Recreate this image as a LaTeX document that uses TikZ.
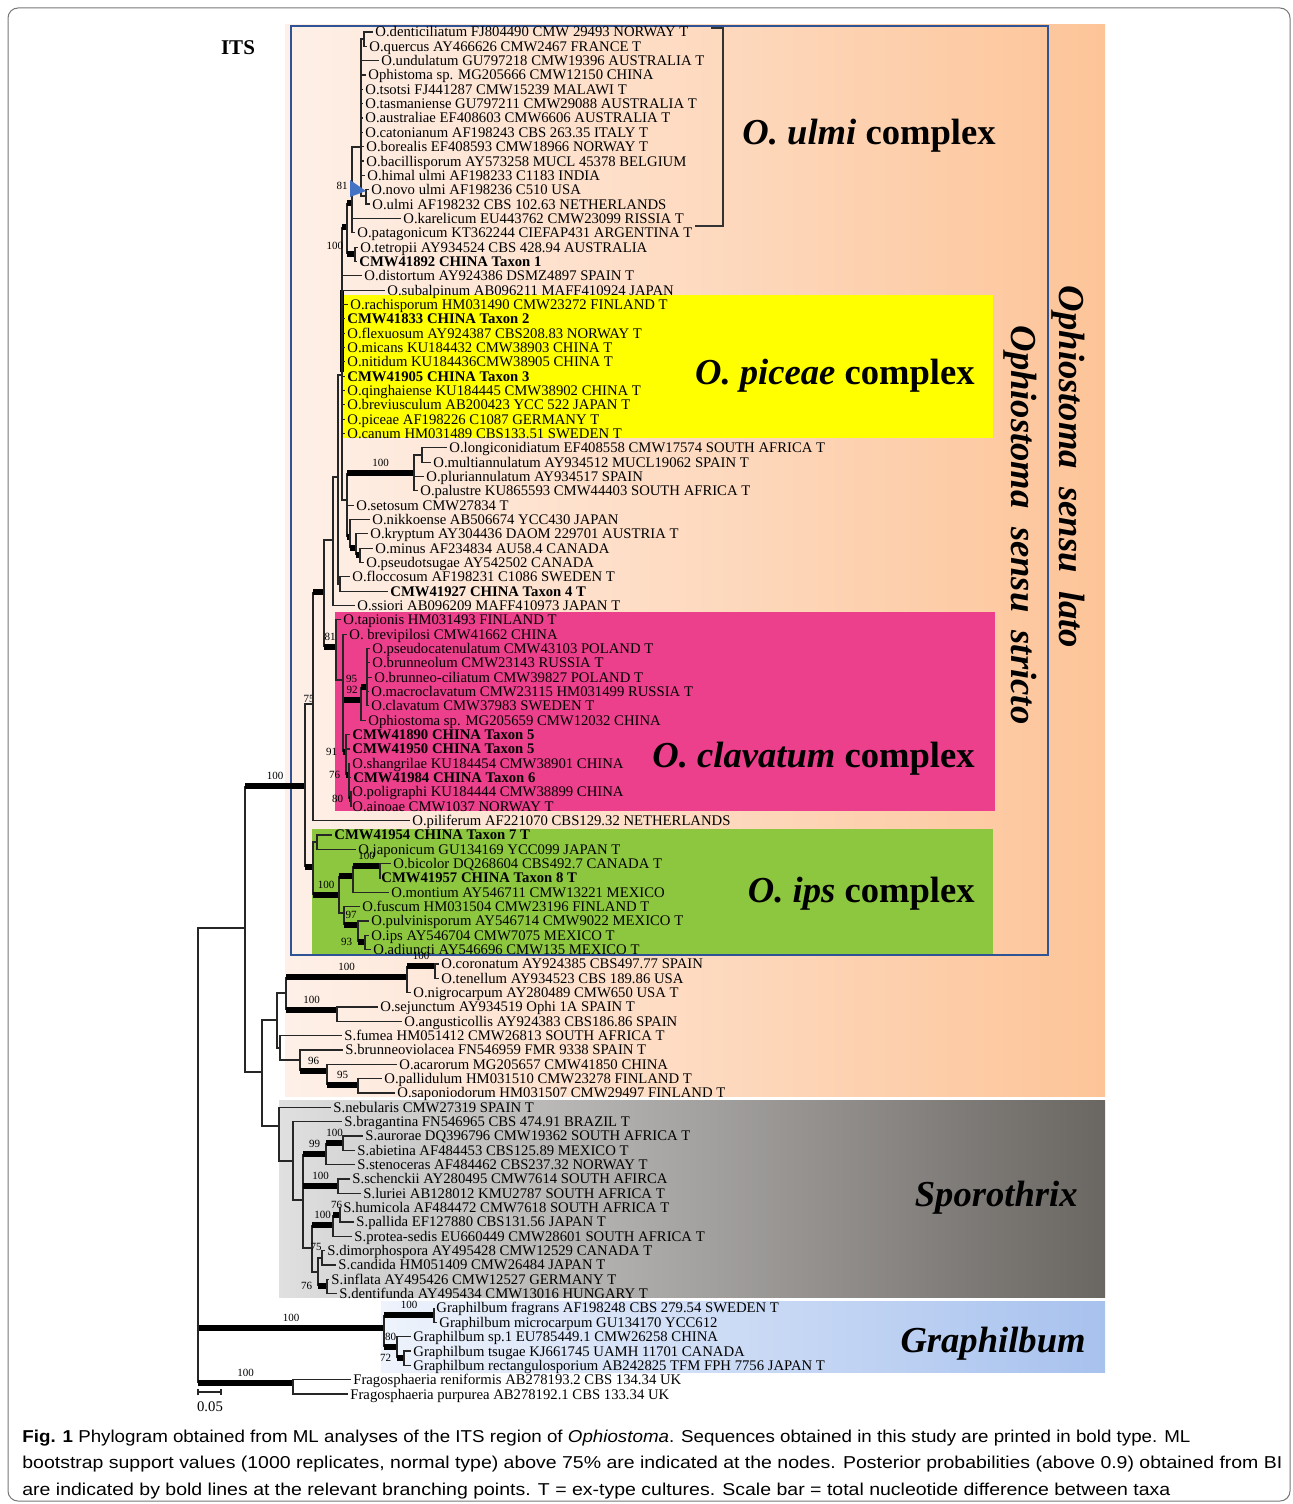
\documentclass[tikz,border=0pt]{standalone}
\usepackage{fontspec}
\setmainfont{Liberation Serif}
\newfontfamily\capfont{Liberation Sans}
\usetikzlibrary{positioning}

\definecolor{sllleft}{RGB}{254,240,232}
\definecolor{sllright}{RGB}{253,196,152}
\definecolor{ssframe}{RGB}{46,84,150}
\definecolor{piceaefill}{RGB}{255,255,0}
\definecolor{clavfill}{RGB}{236,64,140}
\definecolor{ipsfill}{RGB}{141,198,63}
\definecolor{sporoleft}{RGB}{224,224,224}
\definecolor{spororight}{RGB}{106,102,98}
\definecolor{graphleft}{RGB}{238,243,252}
\definecolor{graphright}{RGB}{168,194,238}
\definecolor{novoblue}{RGB}{68,114,196}
\definecolor{framegray}{RGB}{120,120,120}

\newcommand\tipsize{\fontsize{7.35}{8}\selectfont}
\newcommand\bssize{\fontsize{5.5}{6}\selectfont}
\newcommand\grpsize{\fontsize{18.3}{20}\selectfont}
\newcommand\capsize{\fontsize{8.6}{10}\selectfont}

\tikzset{
  br/.style={line width=0.6pt, draw=black!85},
  pp/.style={line width=3pt, draw=black},
  tx/.style={anchor=west, inner xsep=1pt, inner ysep=0pt, text height=5pt, text depth=0pt, font=\tipsize},
  txb/.style={tx, font=\tipsize\bfseries},
  bs/.style={inner sep=0.5pt, font=\bssize},
  grp/.style={anchor=base east, inner sep=0pt, font=\grpsize\bfseries},
  captxt/.style={anchor=base west, inner sep=0pt, font=\capfont\capsize},
}

\begin{document}
\begin{tikzpicture}[x=0.5pt, y=-0.5pt]
\useasboundingbox (0,0) rectangle (1292,1504);
\fill[white] (0,0) rectangle (1292,1504);
\draw[framegray, line width=0.5pt, rounded corners=5pt] (8,8) rectangle (1290,1501);

% coloured groups
\shade[left color=sllleft, right color=sllright] (285,25) rectangle (1105,1096);
\fill[piceaefill] (343,295) rectangle (993,438);
\fill[clavfill] (335,612) rectangle (995,811);
\fill[ipsfill] (312,829) rectangle (993,955);
\draw[ssframe, line width=1pt] (291,26) rectangle (1048,955);
\shade[left color=sporoleft, right color=spororight] (279,1100) rectangle (1105,1297);
\shade[left color=graphleft, right color=graphright] (381,1301) rectangle (1105,1372);
\draw[line width=0.6pt, black!80] (711,28) -- (723,28) -- (723,226) -- (695,226);

% taxa
\node[tx] (t1) at (373,32.0) {O.denticiliatum FJ804490 CMW 29493 NORWAY T};
\node[tx] (t2) at (367,46.3) {O.quercus AY466626 CMW2467 FRANCE T};
\node[tx] (t3) at (379,60.7) {O.undulatum GU797218 CMW19396 AUSTRALIA T};
\node[tx] (t4) at (366,75.0) {Ophistoma sp. MG205666 CMW12150 CHINA};
\node[tx] (t5) at (363,89.3) {O.tsotsi FJ441287 CMW15239 MALAWI T};
\node[tx] (t6) at (363,103.7) {O.tasmaniense GU797211 CMW29088 AUSTRALIA T};
\node[tx] (t7) at (363,118.0) {O.australiae EF408603 CMW6606 AUSTRALIA T};
\node[tx] (t8) at (363,132.4) {O.catonianum AF198243 CBS 263.35 ITALY T};
\node[tx] (t9) at (364,146.7) {O.borealis EF408593 CMW18966 NORWAY T};
\node[tx] (t10) at (364,161.0) {O.bacillisporum AY573258 MUCL 45378 BELGIUM};
\node[tx] (t11) at (365,175.4) {O.himal ulmi AF198233 C1183 INDIA};
\node[tx] (t12) at (369,189.7) {O.novo ulmi AF198236 C510 USA};
\node[tx] (t13) at (370,204.0) {O.ulmi AF198232 CBS 102.63 NETHERLANDS};
\node[tx] (t14) at (401,218.4) {O.karelicum EU443762 CMW23099 RISSIA T};
\node[tx] (t15) at (355,232.7) {O.patagonicum KT362244 CIEFAP431 ARGENTINA T};
\node[tx] (t16) at (358,247.1) {O.tetropii AY934524 CBS 428.94 AUSTRALIA};
\node[txb] (t17) at (357,261.4) {CMW41892 CHINA Taxon 1};
\node[tx] (t18) at (362,275.7) {O.distortum AY924386 DSMZ4897 SPAIN T};
\node[tx] (t19) at (385,290.1) {O.subalpinum AB096211 MAFF410924 JAPAN};
\node[tx] (t20) at (348,304.4) {O.rachisporum HM031490 CMW23272 FINLAND T};
\node[txb] (t21) at (345,318.7) {CMW41833 CHINA Taxon 2};
\node[tx] (t22) at (345,333.1) {O.flexuosum AY924387 CBS208.83 NORWAY T};
\node[tx] (t23) at (345,347.4) {O.micans KU184432 CMW38903 CHINA T};
\node[tx] (t24) at (345,361.8) {O.nitidum KU184436CMW38905 CHINA T};
\node[txb] (t25) at (345,376.1) {CMW41905 CHINA Taxon 3};
\node[tx] (t26) at (345,390.4) {O.qinghaiense KU184445 CMW38902 CHINA T};
\node[tx] (t27) at (345,404.8) {O.breviusculum AB200423 YCC 522 JAPAN T};
\node[tx] (t28) at (345,419.1) {O.piceae AF198226 C1087 GERMANY T};
\node[tx] (t29) at (345,433.4) {O.canum HM031489 CBS133.51 SWEDEN T};
\node[tx] (t30) at (447,447.8) {O.longiconidiatum EF408558 CMW17574 SOUTH AFRICA T};
\node[tx] (t31) at (431,462.1) {O.multiannulatum AY934512 MUCL19062 SPAIN T};
\node[tx] (t32) at (424,476.5) {O.pluriannulatum AY934517 SPAIN};
\node[tx] (t33) at (418,490.8) {O.palustre KU865593 CMW44403 SOUTH AFRICA T};
\node[tx] (t34) at (354,505.1) {O.setosum CMW27834 T};
\node[tx] (t35) at (370,519.5) {O.nikkoense AB506674 YCC430 JAPAN};
\node[tx] (t36) at (368,533.8) {O.kryptum AY304436 DAOM 229701 AUSTRIA T};
\node[tx] (t37) at (373,548.1) {O.minus AF234834 AU58.4 CANADA};
\node[tx] (t38) at (364,562.5) {O.pseudotsugae AY542502 CANADA};
\node[tx] (t39) at (350,576.8) {O.floccosum AF198231 C1086 SWEDEN T};
\node[txb] (t40) at (388,591.1) {CMW41927 CHINA Taxon 4 T};
\node[tx] (t41) at (355,605.5) {O.ssiori AB096209 MAFF410973 JAPAN T};
\node[tx] (t42) at (341,619.8) {O.tapionis HM031493 FINLAND T};
\node[tx] (t43) at (347,634.2) {O. brevipilosi CMW41662 CHINA};
\node[tx] (t44) at (370,648.5) {O.pseudocatenulatum CMW43103 POLAND T};
\node[tx] (t45) at (370,662.8) {O.brunneolum CMW23143 RUSSIA T};
\node[tx] (t46) at (372,677.2) {O.brunneo-ciliatum CMW39827 POLAND T};
\node[tx] (t47) at (369,691.5) {O.macroclavatum CMW23115 HM031499 RUSSIA T};
\node[tx] (t48) at (369,705.8) {O.clavatum CMW37983 SWEDEN T};
\node[tx] (t49) at (366,720.2) {Ophiostoma sp. MG205659 CMW12032 CHINA};
\node[txb] (t50) at (350,734.5) {CMW41890 CHINA Taxon 5};
\node[txb] (t51) at (350,748.9) {CMW41950 CHINA Taxon 5};
\node[tx] (t52) at (350,763.2) {O.shangrilae KU184454 CMW38901 CHINA};
\node[txb] (t53) at (351,777.5) {CMW41984 CHINA Taxon 6};
\node[tx] (t54) at (350,791.9) {O.poligraphi KU184444 CMW38899 CHINA};
\node[tx] (t55) at (350,806.2) {O.ainoae CMW1037 NORWAY T};
\node[tx] (t56) at (410,820.5) {O.piliferum AF221070 CBS129.32 NETHERLANDS};
\node[txb] (t57) at (332,834.9) {CMW41954 CHINA Taxon 7 T};
\node[tx] (t58) at (356,849.2) {O.japonicum GU134169 YCC099 JAPAN T};
\node[tx] (t59) at (391,863.5) {O.bicolor DQ268604 CBS492.7 CANADA T};
\node[txb] (t60) at (379,877.9) {CMW41957 CHINA Taxon 8 T};
\node[tx] (t61) at (389,892.2) {O.montium AY546711 CMW13221 MEXICO};
\node[tx] (t62) at (360,906.6) {O.fuscum HM031504 CMW23196 FINLAND T};
\node[tx] (t63) at (369,920.9) {O.pulvinisporum AY546714 CMW9022 MEXICO T};
\node[tx] (t64) at (369,935.2) {O.ips AY546704 CMW7075 MEXICO T};
\node[tx] (t65) at (371,949.6) {O.adiuncti AY546696 CMW135 MEXICO T};
\node[tx] (t66) at (439,963.9) {O.coronatum AY924385 CBS497.77 SPAIN};
\node[tx] (t67) at (439,978.2) {O.tenellum AY934523 CBS 189.86 USA};
\node[tx] (t68) at (411,992.6) {O.nigrocarpum AY280489 CMW650 USA T};
\node[tx] (t69) at (378,1006.9) {O.sejunctum AY934519 Ophi 1A SPAIN T};
\node[tx] (t70) at (402,1021.2) {O.angusticollis AY924383 CBS186.86 SPAIN};
\node[tx] (t71) at (342,1035.6) {S.fumea HM051412 CMW26813 SOUTH AFRICA T};
\node[tx] (t72) at (343,1049.9) {S.brunneoviolacea FN546959 FMR 9338 SPAIN T};
\node[tx] (t73) at (397,1064.3) {O.acarorum MG205657 CMW41850 CHINA};
\node[tx] (t74) at (382,1078.6) {O.pallidulum HM031510 CMW23278 FINLAND T};
\node[tx] (t75) at (395,1092.9) {O.saponiodorum HM031507 CMW29497 FINLAND T};
\node[tx] (t76) at (331,1107.3) {S.nebularis CMW27319 SPAIN T};
\node[tx] (t77) at (342,1121.6) {S.bragantina FN546965 CBS 474.91 BRAZIL T};
\node[tx] (t78) at (363,1135.9) {S.aurorae DQ396796 CMW19362 SOUTH AFRICA T};
\node[tx] (t79) at (355,1150.3) {S.abietina AF484453 CBS125.89 MEXICO T};
\node[tx] (t80) at (355,1164.6) {S.stenoceras AF484462 CBS237.32 NORWAY T};
\node[tx] (t81) at (350,1178.9) {S.schenckii AY280495 CMW7614 SOUTH AFIRCA};
\node[tx] (t82) at (361,1193.3) {S.luriei AB128012 KMU2787 SOUTH AFRICA T};
\node[tx] (t83) at (341,1207.6) {S.humicola AF484472 CMW7618 SOUTH AFRICA T};
\node[tx] (t84) at (354,1221.9) {S.pallida EF127880 CBS131.56 JAPAN T};
\node[tx] (t85) at (352,1236.3) {S.protea-sedis EU660449 CMW28601 SOUTH AFRICA T};
\node[tx] (t86) at (325,1250.6) {S.dimorphospora AY495428 CMW12529 CANADA T};
\node[tx] (t87) at (336,1264.9) {S.candida HM051409 CMW26484 JAPAN T};
\node[tx] (t88) at (329,1279.3) {S.inflata AY495426 CMW12527 GERMANY T};
\node[tx] (t89) at (337,1293.6) {S.dentifunda AY495434 CMW13016 HUNGARY T};
\node[tx] (t90) at (434,1307.9) {Graphilbum fragrans AF198248 CBS 279.54 SWEDEN T};
\node[tx] (t91) at (437,1322.3) {Graphilbum microcarpum GU134170 YCC612};
\node[tx] (t92) at (411,1336.6) {Graphilbum sp.1 EU785449.1 CMW26258 CHINA};
\node[tx] (t93) at (411,1351.0) {Graphilbum tsugae KJ661745 UAMH 11701 CANADA};
\node[tx] (t94) at (411,1365.3) {Graphilbum rectangulosporium AB242825 TFM FPH 7756 JAPAN T};
\node[tx] (t95) at (351,1379.6) {Fragosphaeria reniformis AB278193.2 CBS 134.34 UK};
\node[tx] (t96) at (348,1394.0) {Fragosphaeria purpurea AB278192.1 CBS 133.34 UK};

% internal nodes
\coordinate (R) at (198,1150);
\coordinate (a) at (245,928);
\coordinate (S) at (305,786);
\coordinate (A) at (313,704);
\coordinate (B) at (324,592);
\coordinate (C) at (333,540);
\coordinate (D) at (338,477);
\coordinate (E) at (342,375);
\coordinate (U) at (347,227);
\coordinate (W) at (352,203);
\coordinate (X) at (361,147);
\coordinate (X1) at (364,39);
\coordinate (X2) at (366,196);
\coordinate (T1) at (355,254);
\coordinate (H) at (347,500);
\coordinate (I) at (414,473);
\coordinate (I1) at (422,455);
\coordinate (J) at (350,537);
\coordinate (K) at (356,548);
\coordinate (L) at (360,555);
\coordinate (F) at (340,584);
\coordinate (Cl) at (336,647);
\coordinate (Cl2) at (343,680);
\coordinate (Cl3) at (361,700);
\coordinate (Cl5) at (367,687);
\coordinate (Cl4) at (346,752);
\coordinate (Cl6) at (349,775);
\coordinate (Cl7) at (351,799);
\coordinate (Ip) at (313,867);
\coordinate (Ip1) at (317,842);
\coordinate (Ip2) at (339,895);
\coordinate (Ip3) at (353,876);
\coordinate (Ip5) at (380,866);
\coordinate (Ip4) at (344,913);
\coordinate (Ip6) at (358,925);
\coordinate (Ip7) at (365,942);
\coordinate (b) at (262,1072);
\coordinate (Q) at (277,1020);
\coordinate (Q1) at (286,993);
\coordinate (Q2) at (407,977);
\coordinate (Q3) at (435,966);
\coordinate (Q4) at (337,1010);
\coordinate (Q5) at (280,1048);
\coordinate (Q6) at (300,1060);
\coordinate (Q7) at (327,1071);
\coordinate (Q8) at (358,1085);
\coordinate (Sp) at (279,1126);
\coordinate (Sp1) at (293,1161);
\coordinate (Sp2) at (303,1200);
\coordinate (Sp3) at (326,1154);
\coordinate (Sp3a) at (343,1143);
\coordinate (Sp4) at (338,1186);
\coordinate (Sp5) at (312,1248);
\coordinate (Sp6) at (333,1225);
\coordinate (Sp6a) at (340,1215);
\coordinate (Sp7) at (318,1272);
\coordinate (Sp8) at (322,1258);
\coordinate (Sp9) at (327,1286);
\coordinate (G) at (384,1328);
\coordinate (G1) at (434,1315);
\coordinate (G2) at (397,1347);
\coordinate (G3) at (404,1358);
\coordinate (Fr) at (293,1383);

% backbone
\draw[br] (R) |- (a);
\draw[br] (a) -- (a |- S);
\draw[pp] (a |- S) -- (S) node[bs, midway, above=1.4pt] (bsS) {100};
\draw[br] (a) |- (b);
\draw[br] (S) |- (A) node[bs, pos=0.75, above] (bsA) {75};
\draw[br] (S) -- (S |- Ip);
\draw[pp] (S |- Ip) -- (Ip);
\draw[br] (A) -- (A |- B);
\draw[pp] (A |- B) -- (B);
\draw[br] (A) |- (t56.west);
\draw[br] (B) |- (C);
\draw[br] (B) -- (B |- Cl);
\draw[pp] (B |- Cl) -- (Cl) node[bs, midway, above=1.4pt] (bsCl) {81};
\draw[br] (C) |- (D);
\draw[br] (C) |- (t41.west);
\draw[br] (D) |- (E);
\draw[br] (D) |- (F);
\draw[br] (F) |- (t39.west);
\draw[br] (F) |- (t40.west);

% O. ulmi and O. piceae part
\draw[br] (E) -- (E |- U);
\draw[pp] (E |- U) -- (U);
\draw[line width=1.6pt] (342,290) -- (342,372);
\draw[br] (E) |- (t18.west);
\draw[br] (E) |- (t19.west);
\draw[br] (E) |- (t20.west);
\draw[br] (E) |- (t21.west);
\draw[br] (E) |- (t22.west);
\draw[br] (E) |- (t23.west);
\draw[br] (E) |- (t24.west);
\draw[br] (E) |- (t25.west);
\draw[br] (E) |- (t26.west);
\draw[br] (E) |- (t27.west);
\draw[br] (E) |- (t28.west);
\draw[br] (E) |- (t29.west);
\draw[br] (E) |- (H);
\draw[br] (U) -- (U |- W);
\draw[pp] (U |- W) -- (W);
\draw[br] (U) -- (U |- T1);
\draw[pp] (U |- T1) -- (T1) node[bs, pos=0, above left=0pt] (bsT1) {100};
\draw[br] (T1) |- (t16.west);
\draw[br] (T1) |- (t17.west);
\draw[br] (W) |- (X);
\draw[br] (W) |- (t14.west);
\draw[br] (W) |- (t15.west);
\draw[br] (X) |- (X1);
\draw[line width=1.3pt] (361,60) -- (361,140);
\draw[br] (X) |- (t3.west);
\draw[br] (X) |- (t4.west);
\draw[br] (X) |- (t5.west);
\draw[br] (X) |- (t6.west);
\draw[br] (X) |- (t7.west);
\draw[br] (X) |- (t8.west);
\draw[br] (X) |- (t9.west);
\draw[br] (X) |- (t10.west);
\draw[br] (X) |- (t11.west);
\draw[br] (X) |- (X2);
\draw[br] (X1) |- (t1.west);
\draw[br] (X1) |- (t2.west);
\draw[br] (X2) |- (t12.west);
\draw[br] (X2) |- (t13.west);
\node[bs] (bsW) at (342,186) {81};
\fill[novoblue] (350,180) -- (350,197) -- (366,191) -- cycle;

% setosum to pseudotsugae
\draw[br] (H) -- (H |- I);
\draw[pp] (H |- I) -- (I) node[bs, midway, above=1.4pt] (bsI) {100};
\draw[br] (H) |- (t34.west);
\draw[br] (H) -- (H |- J);
\draw[pp] (H |- J) -- (J);
\draw[br] (I) |- (I1);
\draw[br] (I) |- (t32.west);
\draw[br] (I) |- (t33.west);
\draw[br] (I1) |- (t30.west);
\draw[br] (I1) |- (t31.west);
\draw[br] (J) |- (t35.west);
\draw[br] (J) -- (J |- K);
\draw[pp] (J |- K) -- (K);
\draw[br] (K) |- (t36.west);
\draw[br] (K) -- (K |- L);
\draw[pp] (K |- L) -- (L);
\draw[br] (L) |- (t37.west);
\draw[br] (L) |- (t38.west);

% O. clavatum complex
\draw[br] (Cl) |- (t42.west);
\draw[br] (Cl) |- (Cl2);
\draw[br] (Cl2) |- (t43.west);
\draw[br] (Cl2) -- (Cl2 |- Cl3);
\draw[pp] (Cl2 |- Cl3) -- (Cl3) node[bs, midway, above=1.4pt] (bsCl3) {92};
\draw[br] (Cl2) -- (Cl2 |- Cl4);
\draw[pp] (Cl2 |- Cl4) -- (Cl4) node[bs, pos=0, left=1pt] (bsCl4) {91};
\draw[br] (Cl3) -- (Cl3 |- Cl5);
\draw[pp] (Cl3 |- Cl5) -- (Cl5) node[bs, pos=0, above left=0pt] (bsCl5) {95};
\draw[br] (Cl3) |- (t49.west);
\draw[br] (Cl5) |- (t44.west);
\draw[br] (Cl5) |- (t45.west);
\draw[br] (Cl5) |- (t46.west);
\draw[br] (Cl5) |- (t47.west);
\draw[br] (Cl5) |- (t48.west);
\draw[br] (Cl4) |- (t50.west);
\draw[br] (Cl4) |- (t51.west);
\draw[br] (Cl4) -- (Cl4 |- Cl6);
\draw[pp] (Cl4 |- Cl6) -- (Cl6) node[bs, pos=0, left=1pt] (bsCl6) {76};
\draw[br] (Cl6) |- (t52.west);
\draw[br] (Cl6) |- (t53.west);
\draw[br] (Cl6) -- (Cl6 |- Cl7);
\draw[pp] (Cl6 |- Cl7) -- (Cl7) node[bs, pos=0, left=1pt] (bsCl7) {80};
\draw[br] (Cl7) |- (t54.west);
\draw[br] (Cl7) |- (t55.west);

% O. ips complex
\draw[br] (Ip) |- (Ip1);
\draw[br] (Ip) -- (Ip |- Ip2);
\draw[pp] (Ip |- Ip2) -- (Ip2) node[bs, midway, above=1.4pt] (bsIp2) {100};
\draw[br] (Ip1) |- (t57.west);
\draw[br] (Ip1) |- (t58.west);
\draw[br] (Ip2) -- (Ip2 |- Ip3);
\draw[pp] (Ip2 |- Ip3) -- (Ip3);
\draw[br] (Ip2) |- (Ip4);
\draw[br] (Ip3) -- (Ip3 |- Ip5);
\draw[pp] (Ip3 |- Ip5) -- (Ip5) node[bs, midway, above=1pt] (bsIp5) {100};
\draw[br] (Ip3) |- (t61.west);
\draw[br] (Ip5) |- (t59.west);
\draw[br] (Ip5) |- (t60.west);
\draw[br] (Ip4) |- (t62.west);
\draw[br] (Ip4) -- (Ip4 |- Ip6);
\draw[pp] (Ip4 |- Ip6) -- (Ip6) node[bs, midway, above=1.4pt] (bsIp6) {97};
\draw[br] (Ip6) |- (t63.west);
\draw[br] (Ip6) -- (Ip6 |- Ip7);
\draw[pp] (Ip6 |- Ip7) -- (Ip7) node[bs, pos=0, left=1pt] (bsIp7) {93};
\draw[br] (Ip7) |- (t64.west);
\draw[br] (Ip7) |- (t65.west);

% rest of Ophiostoma s.l.
\draw[br] (b) |- (Q);
\draw[br] (b) |- (Sp);
\draw[br] (Q) |- (Q1);
\draw[br] (Q) |- (Q5);
\draw[br] (Q1) -- (Q1 |- Q2);
\draw[pp] (Q1 |- Q2) -- (Q2) node[bs, midway, above=1.4pt] (bsQ2) {100};
\draw[br] (Q1) -- (Q1 |- Q4);
\draw[pp] (Q1 |- Q4) -- (Q4) node[bs, midway, above=1.4pt] (bsQ4) {100};
\draw[br] (Q2) -- (Q2 |- Q3);
\draw[pp] (Q2 |- Q3) -- (Q3) node[bs, midway, above=1pt] (bsQ3) {100};
\draw[br] (Q2) |- (t68.west);
\draw[br] (Q3) |- (t66.west);
\draw[br] (Q3) |- (t67.west);
\draw[br] (Q4) |- (t69.west);
\draw[br] (Q4) |- (t70.west);
\draw[br] (Q5) |- (t71.west);
\draw[br] (Q5) |- (Q6);
\draw[br] (Q6) |- (t72.west);
\draw[br] (Q6) -- (Q6 |- Q7);
\draw[pp] (Q6 |- Q7) -- (Q7) node[bs, midway, above=1.4pt] (bsQ7) {96};
\draw[br] (Q7) |- (t73.west);
\draw[br] (Q7) -- (Q7 |- Q8);
\draw[pp] (Q7 |- Q8) -- (Q8) node[bs, midway, above=1.4pt] (bsQ8) {95};
\draw[br] (Q8) |- (t74.west);
\draw[br] (Q8) |- (t75.west);

% Sporothrix
\draw[br] (Sp) |- (t76.west);
\draw[br] (Sp) |- (Sp1);
\draw[br] (Sp1) |- (t77.west);
\draw[br] (Sp1) |- (Sp2);
\draw[br] (Sp2) -- (Sp2 |- Sp3);
\draw[pp] (Sp2 |- Sp3) -- (Sp3) node[bs, midway, above=1.4pt] (bsSp3) {99};
\draw[br] (Sp2) -- (Sp2 |- Sp4);
\draw[pp] (Sp2 |- Sp4) -- (Sp4) node[bs, midway, above=1.4pt] (bsSp4) {100};
\draw[br] (Sp2) |- (Sp5);
\draw[br] (Sp3) -- (Sp3 |- Sp3a);
\draw[pp] (Sp3 |- Sp3a) -- (Sp3a) node[bs, midway, above=1.4pt] (bsSp3a) {100};
\draw[br] (Sp3) |- (t80.west);
\draw[br] (Sp3a) |- (t78.west);
\draw[br] (Sp3a) |- (t79.west);
\draw[br] (Sp4) |- (t81.west);
\draw[br] (Sp4) |- (t82.west);
\draw[br] (Sp5) -- (Sp5 |- Sp6);
\draw[pp] (Sp5 |- Sp6) -- (Sp6) node[bs, midway, above=1.4pt] (bsSp6) {100};
\draw[br] (Sp5) |- (Sp7);
\draw[br] (Sp6) -- (Sp6 |- Sp6a);
\draw[pp] (Sp6 |- Sp6a) -- (Sp6a) node[bs, midway, above=1.4pt] (bsSp6a) {76};
\draw[br] (Sp6) |- (t85.west);
\draw[br] (Sp6a) |- (t83.west);
\draw[br] (Sp6a) |- (t84.west);
\draw[br] (Sp7) |- (Sp8);
\node[bs] (bsSp8) at (316,1247) {75};
\draw[br] (Sp7) -- (Sp7 |- Sp9);
\draw[pp] (Sp7 |- Sp9) -- (Sp9) node[bs, pos=0, left=1pt] (bsSp9) {76};
\draw[br] (Sp8) |- (t86.west);
\draw[br] (Sp8) |- (t87.west);
\draw[br] (Sp9) |- (t88.west);
\draw[br] (Sp9) |- (t89.west);

% Graphilbum and outgroup
\draw[br] (R) -- (R |- G);
\draw[pp] (R |- G) -- (G) node[bs, midway, above=1.4pt] (bsG) {100};
\draw[br] (R) -- (R |- Fr);
\draw[pp] (R |- Fr) -- (Fr) node[bs, midway, above=1.4pt] (bsFr) {100};
\draw[br] (G) -- (G |- G1);
\draw[pp] (G |- G1) -- (G1) node[bs, midway, above=1.4pt] (bsG1) {100};
\draw[br] (G) -- (G |- G2);
\draw[pp] (G |- G2) -- (G2) node[bs, midway, above=1.4pt] (bsG2) {80};
\draw[br] (G1) |- (t90.west);
\draw[br] (G1) |- (t91.west);
\draw[br] (G2) |- (t92.west);
\draw[br] (G2) -- (G2 |- G3);
\draw[pp] (G2 |- G3) -- (G3) node[bs, pos=0, left=1pt] (bsG3) {72};
\draw[br] (G3) |- (t93.west);
\draw[br] (G3) |- (t94.west);
\draw[br] (Fr) |- (t95.west);
\draw[br] (Fr) |- (t96.west);

% scale bar
\draw[br] (198,1392) -- (221,1392);
\draw[br] (198,1389) -- (198,1395);
\draw[br] (221,1389) -- (221,1395);
\node[tx, anchor=center] (scale) at (210,1406) {0.05};

% group names
\node[font=\fontsize{10.5}{12}\selectfont\bfseries] (its) at (238,48) {ITS};
\node[grp] (ulmi) at (996,144) {\textit{O. ulmi} complex};
\node[grp] (piceae) at (975,384) {\textit{O. piceae} complex};
\node[grp] (clav) at (975,767) {\textit{O. clavatum} complex};
\node[grp] (ips) at (975,902) {\textit{O. ips} complex};
\node[grp] (sporo) at (1078,1206) {\textit{Sporothrix}};
\node[grp] (graph) at (1086,1352) {\textit{Graphilbum}};
\node[grp, anchor=center, rotate=-90] (lato) at (1068,467) {\textit{Ophiostoma\ \ sensu\ \ lato}};
\node[grp, anchor=center, rotate=-90] (stricto) at (1020,525) {\textit{Ophiostoma\ \ sensu\ \ stricto}};

% caption
\node[captxt] (cap1) at (22,1442) {\resizebox{584pt}{\height}{\textbf{Fig. 1} Phylogram obtained from ML analyses of the ITS region of \textit{Ophiostoma}. Sequences obtained in this study are printed in bold type. ML}};
\node[captxt] (cap2) at (22,1468) {\resizebox{630pt}{\height}{bootstrap support values (1000 replicates, normal type) above 75\% are indicated at the nodes. Posterior probabilities (above 0.9) obtained from BI}};
\node[captxt] (cap3) at (22,1495) {\resizebox{574pt}{\height}{are indicated by bold lines at the relevant branching points. T = ex-type cultures. Scale bar = total nucleotide difference between taxa}};
\end{tikzpicture}
\end{document}
